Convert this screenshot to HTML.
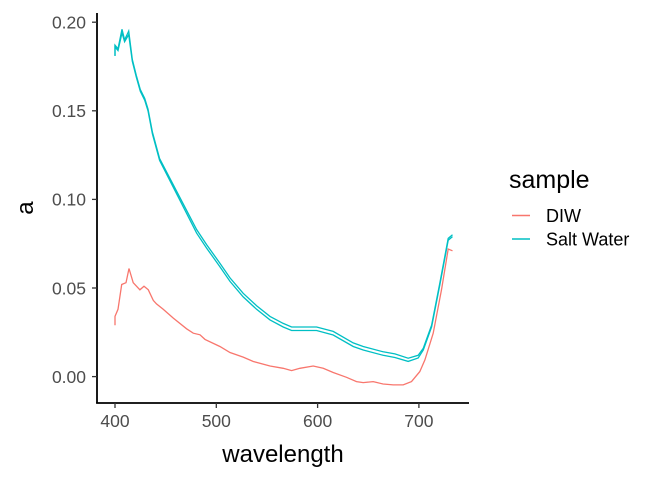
<!DOCTYPE html>
<html><head><meta charset="utf-8"><style>
body{margin:0;background:#fff}
svg{display:block;font-family:"Liberation Sans",Arial,sans-serif}
</style></head><body>
<svg id="chart" width="672" height="480" viewBox="0 0 672 480"></svg>
<script>
const xTicks=[400,500,600,700];
const yTicks=[0,0.05,0.10,0.15,0.20];
const yTickLabels=["0.00","0.05","0.10","0.15","0.20"];
const diwW=[400,400,403,406.6,410.9,413.8,418,424.6,428.6,432.9,437.8,441,447.6,457.6,470.7,477.3,483.9,488.8,503.6,513.5,526.6,536.5,553,566,574.3,582.5,595.7,605.5,615.4,628.5,638.4,645,654.9,664.7,674.6,684.5,692.7,700.9,705.9,714.1,722.3,728.9,733.2];
const diwA=[0.029,0.034,0.038,0.052,0.053,0.061,0.053,0.049,0.051,0.049,0.043,0.041,0.038,0.033,0.027,0.0245,0.0236,0.021,0.017,0.0136,0.011,0.0085,0.006,0.0047,0.0034,0.0047,0.006,0.0047,0.0023,-0.0004,-0.0028,-0.0034,-0.0028,-0.0042,-0.0047,-0.0047,-0.0028,0.0028,0.0094,0.0245,0.049,0.072,0.071];
const swW=[400,400,403,406.9,409.5,413.5,417.1,421,425,429.3,432.6,436.9,444,480.6,490.4,503.6,513.5,526.6,539.8,553,566,574.3,599,615.4,635.1,645,664.7,676.3,689.4,699.3,704.3,712.5,720.7,728.9,733.2];
const swA1=[0.181,0.187,0.185,0.196,0.190,0.195,0.179,0.170,0.162,0.157,0.151,0.138,0.123,0.083,0.0745,0.064,0.0557,0.047,0.040,0.034,0.030,0.028,0.028,0.0255,0.019,0.017,0.014,0.0128,0.0104,0.012,0.016,0.029,0.053,0.078,0.080];
const swA2=[0.181,0.186,0.184,0.194,0.189,0.193,0.178,0.169,0.161,0.156,0.150,0.137,0.122,0.081,0.0725,0.062,0.0537,0.045,0.038,0.032,0.028,0.026,0.026,0.0235,0.017,0.015,0.012,0.0108,0.0086,0.0105,0.015,0.028,0.052,0.077,0.079];
const NS="http://www.w3.org/2000/svg";
const svg=document.getElementById('chart');
const X=w=>115+(w-400)*1.013;
const Y=a=>376.6-a*1772;
function mk(t,at){const e=document.createElementNS(NS,t);for(const k in at)e.setAttribute(k,at[k]);svg.appendChild(e);return e;}
function line(ws,as,col,name){
  const p=mk('polyline',{points:ws.map((w,i)=>X(w).toFixed(1)+','+Y(as[i]).toFixed(1)).join(' '),fill:'none',stroke:col,'stroke-width':1.3});
  
  
}
line(diwW,diwA,'#F8766D','series-diw');
line(swW,swA1,'#00BFC4','series-salt-water-1');
line(swW,swA2,'#00BFC4','series-salt-water-2');
let ax=mk('line',{x1:97,y1:13,x2:97,y2:403,stroke:'#000','stroke-width':1.8});


ax=mk('line',{x1:96.1,y1:403,x2:469,y2:403,stroke:'#000','stroke-width':1.8});


yTicks.forEach((v,i)=>{
  const y=Y(v);
  const t=mk('line',{x1:92,y1:y,x2:97,y2:y,stroke:'#333','stroke-width':1.3});
  
  
  const l=mk('text',{x:86,y:y+6.3,'text-anchor':'end','font-size':17.5,fill:'#4d4d4d'});
  l.textContent=yTickLabels[i];
  
  
});
xTicks.forEach(v=>{
  const x=X(v);
  const t=mk('line',{x1:x,y1:403,x2:x,y2:408,stroke:'#333','stroke-width':1.3});
  
  
  const l=mk('text',{x:x,y:427,'text-anchor':'middle','font-size':17.5,fill:'#4d4d4d'});
  l.textContent=v;
  
  
});
let t=mk('text',{x:283,y:462,'text-anchor':'middle','font-size':24,fill:'#000'});
t.textContent='wavelength';


t=mk('text',{x:33,y:208,'text-anchor':'middle','font-size':24,fill:'#000',transform:'rotate(-90 33 208)'});
t.textContent='a';


t=mk('text',{x:509,y:188,'font-size':25,fill:'#000'});
t.textContent='sample';


[['DIW','#F8766D',215.5],['Salt Water','#00BFC4',239]].forEach(([n,c,y])=>{
  const k=mk('line',{x1:512,y1:y,x2:530,y2:y,stroke:c,'stroke-width':1.5});
  
  
  const l=mk('text',{x:546,y:y+6.5,'font-size':18,fill:'#000'});
  l.textContent=n;
  
  
});
</script>
</body></html>
